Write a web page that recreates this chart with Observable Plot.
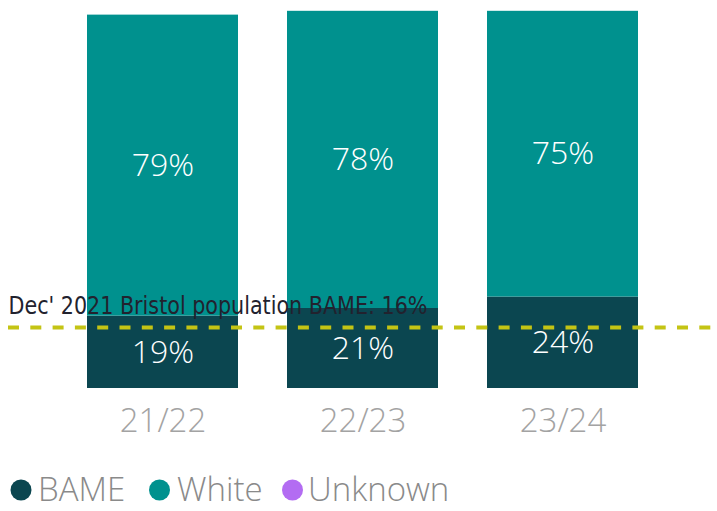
<!DOCTYPE html>
<html>
<head>
<meta charset="utf-8">
<script src="https://cdn.jsdelivr.net/npm/d3@7"></script>
<script src="https://cdn.jsdelivr.net/npm/@observablehq/plot@0.6"></script>
<style>
  html, body { margin: 0; padding: 0; background: #fff; }
  #chart svg { display: block; }
</style>
</head>
<body>
<div id="chart"></div>
<script>
const years = ["21/22", "22/23", "23/24"];
const bame = [19, 21, 24];
const white = [79, 78, 75];
const unknown = [0, 0, 0];
const groups = ["BAME", "White", "Unknown"];
const groupColors = ["#0b4650", "#00918e", "#b36cf2"];
const benchmark = 16;
const benchmarkLabel = "Dec' 2021 Bristol population BAME: 16%";

const series = {BAME: bame, White: white, Unknown: unknown};
const data = years.flatMap((year, i) => groups.map(g => ({year, group: g, value: series[g][i]})));

const W = 717, H = 450;
const plot = Plot.plot({
  width: W,
  height: H,
  marginTop: 7,
  marginBottom: 62,
  marginLeft: 0,
  marginRight: 0,
  style: {fontFamily: "'Open Sans', sans-serif", background: "transparent"},
  x: {domain: years, range: [62.5, 662.5], paddingInner: 0.245, paddingOuter: 0.1225, axis: null},
  y: {domain: [0, 100], axis: null},
  color: {domain: groups, range: groupColors},
  marks: [
    Plot.barY(data, {x: "year", y: "value", fill: "group"}),
    Plot.ruleY([benchmark], {stroke: "#c4c414", strokeWidth: 4, strokeDasharray: "11,11.3", strokeDashoffset: -8}),
    Plot.text([benchmarkLabel], {
      y: [benchmark], text: d => d, frameAnchor: "left", textAnchor: "start",
      dx: 8, lineAnchor: "bottom", dy: -14, fontSize: 25,
      fontFamily: "'Liberation Sans Narrow', 'DejaVu Sans Condensed', sans-serif",
      fill: "#22222e"
    }),
    Plot.text(data.filter(d => d.value > 0), Plot.stackY({
      x: "year", y: "value", z: "group", text: d => d.value + "%",
      fill: "#ffffff", fontSize: 32, fontWeight: 300
    })),
    Plot.axisX({anchor: "bottom", tickSize: 0, tickPadding: 20, fontSize: 33, fontWeight: 300, fill: "#a3a3a3", label: null})
  ]
});

// fit annotation width like the reference
d3.select(plot).selectAll("text").each(function() {
  if (this.textContent === benchmarkLabel) {
    this.setAttribute("textLength", 419);
    this.setAttribute("lengthAdjust", "spacingAndGlyphs");
  }
});
document.getElementById("chart").appendChild(plot);

// legend below the chart
const legendX = [{cx: 21, tx: 38}, {cx: 159.5, tx: 177}, {cx: 292.5, tx: 308}];
const leg = d3.select("#chart").append("svg")
  .attr("width", W).attr("height", 61)
  .style("font-family", "'Open Sans', sans-serif");
groups.forEach((g, i) => {
  leg.append("circle").attr("cx", legendX[i].cx).attr("cy", 40).attr("r", 10.5).attr("fill", groupColors[i]);
  leg.append("text").attr("x", legendX[i].tx).attr("y", 51).attr("font-size", 33).attr("font-weight", 300)
    .attr("fill", "#8a8a8a").text(g);
});
</script>
</body>
</html>
